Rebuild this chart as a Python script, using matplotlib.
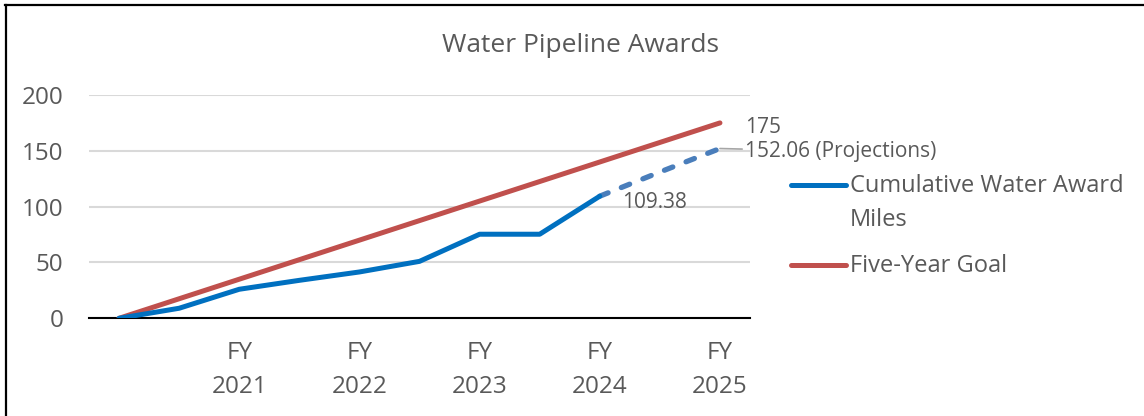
import matplotlib
matplotlib.use("Agg")
import matplotlib.pyplot as plt
from matplotlib.lines import Line2D

plt.rcParams['font.family'] = ['Open Sans', 'DejaVu Sans']

# ---- data ----
categories = ["", "", "FY\n2021", "", "FY\n2022", "", "FY\n2023", "", "FY\n2024", "", "FY\n2025"]
cumulative_miles = [0, 9, 26, 34, 41.5, 51, 75.3, 75.3, 109.38]
projection_idx = [8, 9, 10]
projection_miles = [109.38, 131, 152.06]
goal_miles = [0, 17.5, 35, 52.5, 70, 87.5, 105, 122.5, 140, 157.5, 175]
series_names = ["Cumulative Water Award\nMiles", "Five-Year Goal"]
yticks = [0, 50, 100, 150, 200]
title = "Water Pipeline Awards"

BLUE = "#0070C0"
BLUE_PROJ = "#4A7EBB"
RED = "#C0504D"
GREY = "#595959"

W, H = 1144, 416
fig = plt.figure(figsize=(W / 100, H / 100), dpi=100)
ax = fig.add_axes([89 / W, 1 - 318.3 / H, (750 - 89) / W, (318.3 - 95) / H])

x_all = list(range(len(categories)))
x_act = list(range(len(cumulative_miles)))

ax.plot(x_all, goal_miles, color=RED, lw=3.6, solid_capstyle='round', zorder=3)
ax.plot(projection_idx, projection_miles, color=BLUE_PROJ, lw=3.8,
        dashes=(1.7, 2.7), dash_capstyle='round', zorder=3)
ax.plot(x_act, cumulative_miles, color=BLUE, lw=3.6, solid_capstyle='round',
        solid_joinstyle='round', zorder=4)

ax.set_xlim(-0.5, len(categories) - 0.5)
ax.set_ylim(0, 200)
ax.set_yticks(yticks)
ax.set_yticklabels([str(v) for v in yticks])
ax.set_xticks(x_all)
ax.set_xticklabels(categories)
ax.tick_params(axis='both', length=0, labelcolor=GREY, labelsize=17.5)
ax.tick_params(axis='y', pad=18.5)
ax.tick_params(axis='x', pad=16.5)
for lbl in ax.get_xticklabels():
    lbl.set_linespacing(1.52)
ax.grid(axis='y', color="#D9D9D9", lw=1.5)
ax.set_axisbelow(True)
for s in ["top", "right", "left"]:
    ax.spines[s].set_visible(False)
ax.spines["bottom"].set_color("black")
ax.spines["bottom"].set_linewidth(1.5)
ax.spines["bottom"].set_zorder(2)

# data labels
LBL = 15
ax.annotate(f"{goal_miles[-1]:g}", xy=(x_all[-1], goal_miles[-1]), xytext=(25, -5),
            textcoords='offset pixels', va='center', ha='left', color=GREY,
            fontsize=LBL, annotation_clip=False)
ax.annotate(f"{projection_miles[-1]:.2f} (Projections)",
            xy=(projection_idx[-1], projection_miles[-1]), xytext=(25, -3),
            textcoords='offset pixels', va='center', ha='left', color=GREY,
            fontsize=LBL, annotation_clip=False,
            arrowprops=dict(arrowstyle='-', color="#A6A6A6", lw=1.2,
                            shrinkA=0, shrinkB=0))
ax.annotate(f"{cumulative_miles[-1]:.2f}", xy=(x_act[-1], cumulative_miles[-1]),
            xytext=(22, -6), textcoords='offset pixels', va='center', ha='left',
            color=GREY, fontsize=LBL, annotation_clip=False)

# title
fig.text(580 / W, 1 - 46 / H, title, ha='center', va='center', color=GREY, fontsize=19)

# legend (manual)
leg_colors = [BLUE, RED]
leg_y = [185, 265]
for name, c, y in zip(series_names, leg_colors, leg_y):
    fig.add_artist(Line2D([791 / W, 846 / W], [1 - y / H, 1 - y / H],
                          color=c, lw=3.6, solid_capstyle='round'))
    for k, line in enumerate(name.split("\n")):
        fig.text(850 / W, 1 - (y + 1 + 34 * k) / H, line, ha='left', va='center',
                 color=GREY, fontsize=17)

# outer border (top and left)
fig.add_artist(Line2D([5 / W, 1], [1 - 5 / H, 1 - 5 / H], color='black', lw=1.6))
fig.add_artist(Line2D([5.5 / W, 5.5 / W], [0, 1 - 5 / H], color='black', lw=1.6))

fig.savefig("out.png", dpi=100)
